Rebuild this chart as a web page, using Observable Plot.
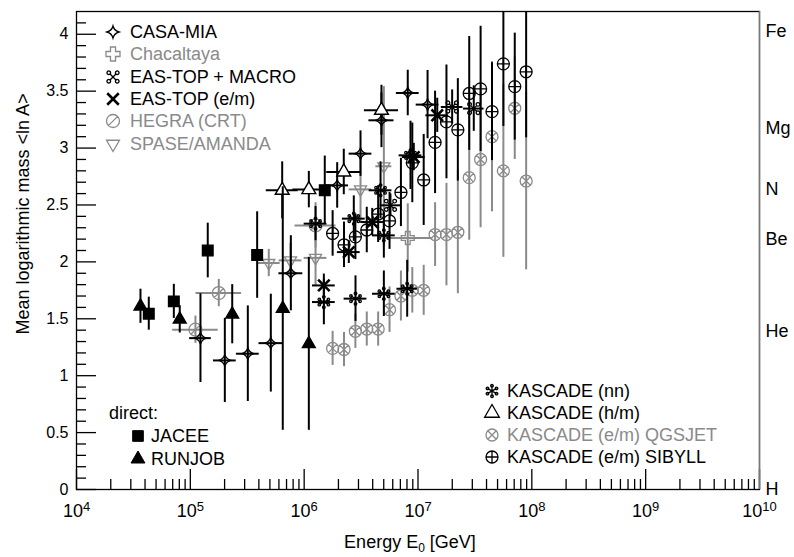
<!DOCTYPE html>
<html><head><meta charset="utf-8">
<script src="https://cdn.jsdelivr.net/npm/d3@7"></script>
<script src="https://cdn.jsdelivr.net/npm/@observablehq/plot@0.6"></script>
<style>
body{margin:0;background:#fff;font-family:"Liberation Sans",Arial,Helvetica,sans-serif;}
#chart{position:relative;width:794px;height:557px;}
.row{position:absolute;height:22px;display:flex;align-items:center;font-size:18px;white-space:nowrap;line-height:22px;}
.row svg{flex:none;}
.ttl{position:absolute;font-size:18px;white-space:nowrap;line-height:1;}
</style></head><body><div id="chart"></div><script>
// ---------- data (log10 E/GeV, <ln A>, errors) ----------
const jaceeLogE = [4.635, 4.855, 5.153, 5.587, 6.181];
const jaceeLnA  = [1.545, 1.653, 2.10, 2.06, 2.63];
const jaceeErr  = [0.145, 0.15, 0.24, 0.38, 0.30];

const runjobLogE = [4.562, 4.907, 5.368, 5.812, 6.041];
const runjobLnA  = [1.61, 1.495, 1.54, 1.59, 1.28];
const runjobErr  = [0.15, 0.12, 0.26, 1.07, 0.76];

const casaLogE  = [5.089, 5.303, 5.505, 5.707, 5.883, 6.290, 6.495, 6.679, 6.910, 7.084];
const casaDLogE = [0.095, 0.10, 0.10, 0.104, 0.105, 0.10, 0.10, 0.11, 0.10, 0.10];
const casaLnA   = [1.33, 1.134, 1.193, 1.286, 1.90, 2.672, 2.951, 3.244, 3.484, 3.382];
const casaErr   = [0.39, 0.37, 0.42, 0.43, 0.33, 0.20, 0.20, 0.24, 0.20, 0.30];

const chacLogE  = [6.91];
const chacDLogE = [0.22];
const chacLnA   = [2.21];
const chacErr   = [0.30];

const eastopMacroLogE  = [6.758, 7.30, 7.49];
const eastopMacroDLogE = [0.09, 0.095, 0.09];
const eastopMacroLnA   = [2.497, 3.361, 3.347];
const eastopMacroErr   = [0.10, 0.15, 0.20];

const eastopEmLogE  = [6.173, 6.392, 6.598, 6.963, 7.169];
const eastopEmDLogE = [0.10, 0.10, 0.10, 0.10, 0.10];
const eastopEmLnA   = [1.793, 2.086, 2.35, 2.921, 3.288];
const eastopEmErr   = [0.10, 0.10, 0.12, 0.12, 0.15];

const hegraLogE  = [5.045, 5.25, 6.10];
const hegraDLogE = [0.20, 0.20, 0.18];
const hegraLnA   = [1.404, 1.726, 2.32];
const hegraErr   = [0.12, 0.12, 0.20];

const spaseLogE  = [5.689, 5.88, 6.10, 6.495, 6.70];
const spaseDLogE = [0.10, 0.10, 0.10, 0.10, 0.07];
const spaseLnA   = [1.99, 2.013, 2.035, 2.637, 2.84];
const spaseErr   = [0.12, 0.15, 0.25, 0.30, 0.70];

const nnLogE  = [6.10, 6.173, 6.436, 6.451, 6.671, 6.70, 6.70, 6.905, 6.934];
const nnDLogE = [0.10, 0.10, 0.10, 0.10, 0.10, 0.10, 0.10, 0.09, 0.10];
const nnLnA   = [2.336, 1.647, 2.38, 1.677, 2.629, 2.233, 1.72, 1.764, 2.936];
const nnErr   = [0.15, 0.20, 0.20, 0.20, 0.25, 0.20, 0.20, 0.25, 0.30];

const hmLogE  = [5.807, 6.041, 6.348, 6.679];
const hmDLogE = [0.14, 0.14, 0.15, 0.15];
const hmLnA   = [2.629, 2.635, 2.79, 3.332];
const hmErr   = [0.25, 0.16, 0.20, 0.22];

const emLogE   = [6.25, 6.35, 6.45, 6.55, 6.65, 6.75, 6.85, 6.95, 7.05, 7.15, 7.25, 7.35, 7.45, 7.55, 7.65, 7.75, 7.85, 7.95];
const qgsLnA   = [1.24, 1.23, 1.39, 1.41, 1.41, 1.58, 1.70, 1.75, 1.75, 2.24, 2.24, 2.26, 2.74, 2.90, 3.10, 2.80, 3.35, 2.71];
const qgsErr   = [0.15, 0.15, 0.15, 0.15, 0.15, 0.20, 0.22, 0.20, 0.22, 0.28, 0.45, 0.54, 0.55, 0.60, 0.66, 0.76, 0.45, 0.78];
const sibLnA   = [2.25, 2.15, 2.22, 2.28, 2.42, 2.36, 2.61, 2.87, 2.72, 3.05, 3.23, 3.16, 3.48, 3.52, 3.32, 3.74, 3.54, 3.67];
const sibErr   = [0.20, 0.20, 0.20, 0.20, 0.25, 0.25, 0.30, 0.35, 0.40, 0.45, 0.50, 0.45, 0.50, 0.55, 0.43, 0.55, 0.47, 0.58];

const xTickLabels = [1e4, 1e5, 1e6, 1e7, 1e8, 1e9, 1e10];
const yTickLabels = [0, 0.5, 1, 1.5, 2, 2.5, 3, 3.5, 4];
const elemNames = ["H", "He", "Be", "N", "Mg", "Fe"];
const elemLnA   = [0, Math.log(4), Math.log(9), Math.log(14), Math.log(24), Math.log(56)];

// ---------- helpers ----------
function build(logE, lnA, err, dlog) {
  return logE.map((l, i) => ({
    E: 10 ** l, lnA: lnA[i], lo: lnA[i] - err[i], hi: lnA[i] + err[i],
    Elo: dlog ? 10 ** (l - dlog[i]) : null, Ehi: dlog ? 10 ** (l + dlog[i]) : null
  }));
}
const rad = s => Math.sqrt(s / Math.PI);
const circ = (c, x, y, r) => { c.moveTo(x + r, y); c.arc(x, y, r, 0, 2 * Math.PI); };
const symCirclePlus = {draw(c, s) { const r = rad(s); circ(c, 0, 0, r); c.moveTo(-r, 0); c.lineTo(r, 0); c.moveTo(0, -r); c.lineTo(0, r); }};
const symCircleTimes = {draw(c, s) { const r = rad(s), q = r * Math.SQRT1_2; circ(c, 0, 0, r); c.moveTo(-q, -q); c.lineTo(q, q); c.moveTo(-q, q); c.lineTo(q, -q); }};
const symCircleSlash = {draw(c, s) { const r = rad(s), q = r * Math.SQRT1_2; circ(c, 0, 0, r); c.moveTo(-q, q); c.lineTo(q, -q); }};
const symDiamond = {draw(c, s) { const r = rad(s), k = r * 0.22;
  c.moveTo(0, -r); c.quadraticCurveTo(k, -k, r, 0); c.quadraticCurveTo(k, k, 0, r);
  c.quadraticCurveTo(-k, k, -r, 0); c.quadraticCurveTo(-k, -k, 0, -r); c.closePath(); }};
const symTriUp = {draw(c, s) { const r = rad(s); c.moveTo(0, -r); c.lineTo(r * 0.866, r * 0.5); c.lineTo(-r * 0.866, r * 0.5); c.closePath(); }};
const symTriDown = {draw(c, s) { const r = rad(s); c.moveTo(0, r); c.lineTo(r * 0.866, -r * 0.5); c.lineTo(-r * 0.866, -r * 0.5); c.closePath(); }};
const symSquare = {draw(c, s) { const h = rad(s) * 0.89; c.rect(-h, -h, 2 * h, 2 * h); }};
const symCrossOutline = {draw(c, s) { const r = rad(s), w = r * 0.36;
  c.moveTo(-w, -r); c.lineTo(w, -r); c.lineTo(w, -w); c.lineTo(r, -w); c.lineTo(r, w); c.lineTo(w, w);
  c.lineTo(w, r); c.lineTo(-w, r); c.lineTo(-w, w); c.lineTo(-r, w); c.lineTo(-r, -w); c.lineTo(-w, -w); c.closePath(); }};
const symTimes = {draw(c, s) { const q = rad(s) * 0.72; c.moveTo(-q, -q); c.lineTo(q, q); c.moveTo(-q, q); c.lineTo(q, -q); }};
const symSnow = {draw(c, s) { const r = rad(s), cr = r * 0.2;
  for (let k = 0; k < 3; k++) { const a = Math.PI / 2 + k * Math.PI / 3, dx = Math.cos(a) * r * 0.8, dy = Math.sin(a) * r * 0.8; c.moveTo(-dx, -dy); c.lineTo(dx, dy); }
  for (let k = 0; k < 6; k++) { const a = Math.PI / 2 + k * Math.PI / 3; circ(c, Math.cos(a) * r * 0.8, Math.sin(a) * r * 0.8, cr); } }};
const symLoopX = {draw(c, s) { const r = rad(s), q = r * 0.42, cr = r * 0.26;
  c.moveTo(-q, -q); c.lineTo(q, q); c.moveTo(-q, q); c.lineTo(q, -q);
  for (const [sx, sy] of [[1, 1], [1, -1], [-1, 1], [-1, -1]]) circ(c, sx * (q + cr * 0.7), sy * (q + cr * 0.7), cr); }};

const GRAY = "#8a8a8a", BLACK = "#000";

function seriesMarks(data, {color, symbol, r, sw = 1.3, fill = "none", bar = 2}) {
  const m = [Plot.ruleX(data, {x: "E", y1: "lo", y2: "hi", stroke: color, strokeWidth: bar, clip: true})];
  if (data[0].Elo != null) m.push(Plot.ruleY(data, {y: "lnA", x1: "Elo", x2: "Ehi", stroke: color, strokeWidth: bar, clip: true}));
  m.push(Plot.dot(data, {x: "E", y: "lnA", symbol, r, stroke: color, strokeWidth: sw, fill, clip: true}));
  return m;
}

const qgs = build(emLogE, qgsLnA, qgsErr, null);
const sib = build(emLogE, sibLnA, sibErr, null);
const hegra = build(hegraLogE, hegraLnA, hegraErr, hegraDLogE);
const spase = build(spaseLogE, spaseLnA, spaseErr, spaseDLogE);
const chac = build(chacLogE, chacLnA, chacErr, chacDLogE);
const casa = build(casaLogE, casaLnA, casaErr, casaDLogE);
const emacro = build(eastopMacroLogE, eastopMacroLnA, eastopMacroErr, eastopMacroDLogE);
const eem = build(eastopEmLogE, eastopEmLnA, eastopEmErr, eastopEmDLogE);
const nn = build(nnLogE, nnLnA, nnErr, nnDLogE);
const hm = build(hmLogE, hmLnA, hmErr, hmDLogE);
const jacee = build(jaceeLogE, jaceeLnA, jaceeErr, null);
const runjob = build(runjobLogE, runjobLnA, runjobErr, null);

const xMinor = d3.range(4, 10).flatMap(k => d3.range(2, 10).map(m => m * 10 ** k));
const yMinor = d3.range(1, 42).map(i => i / 10).filter(v => Math.abs(v * 2 - Math.round(v * 2)) > 1e-6);

const W = 794, H = 557, ML = 76, MR = 35, MT = 11, MB = 68;
const PW = W - ML - MR, PH = H - MT - MB;

const plot = Plot.plot({
  width: W, height: H, marginLeft: ML, marginRight: MR, marginTop: MT, marginBottom: MB,
  style: {fontFamily: "'Liberation Sans', Arial, sans-serif", background: "white", color: "black", overflow: "visible"},
  x: {type: "log", domain: [1e4, 1e10]},
  y: {domain: [0, 4.2]},
  marks: [
    Plot.tickX(xMinor, {x: d => d, insetTop: PH - 10, stroke: "black", strokeWidth: 1.3}),
    Plot.tickX(xTickLabels, {x: d => d, insetTop: PH - 20, stroke: "black", strokeWidth: 1.3}),
    Plot.tickY(yMinor, {y: d => d, insetRight: PW - 10, stroke: "black", strokeWidth: 1.3}),
    Plot.tickY(yTickLabels, {y: d => d, insetRight: PW - 20, stroke: "black", strokeWidth: 1.3}),
    Plot.axisX(xTickLabels, {tickSize: 0, tickPadding: 15, fontSize: 18, label: null, tickFormat: d => "10^" + Math.round(Math.log10(d))}),
    Plot.axisY(yTickLabels, {tickSize: 0, tickPadding: 8, fontSize: 16, label: null, tickFormat: d => String(d)}),
    Plot.axisY(elemLnA, {anchor: "right", tickSize: 0, tickPadding: 6, fontSize: 18, label: null, tickFormat: d => elemNames[elemLnA.indexOf(d)]}),
    ...seriesMarks(qgs, {color: GRAY, symbol: symCircleTimes, r: 6}),
    ...seriesMarks(hegra, {color: GRAY, symbol: symCircleSlash, r: 6.5}),
    ...seriesMarks(spase, {color: GRAY, symbol: symTriDown, r: 7}),
    ...seriesMarks(chac, {color: GRAY, symbol: symCrossOutline, r: 6.5}),
    ...seriesMarks(sib, {color: BLACK, symbol: symCirclePlus, r: 6}),
    ...seriesMarks(casa, {color: BLACK, symbol: symDiamond, r: 6}),
    ...seriesMarks(nn, {color: BLACK, symbol: symSnow, r: 6.5, sw: 1.3}),
    ...seriesMarks(emacro, {color: BLACK, symbol: symLoopX, r: 7, sw: 1.3}),
    ...seriesMarks(eem, {color: BLACK, symbol: symTimes, r: 8, sw: 2.6}),
    ...seriesMarks(hm, {color: BLACK, symbol: symTriUp, r: 8, fill: "white", sw: 1.4}),
    ...seriesMarks(jacee, {color: BLACK, symbol: symSquare, r: 6, fill: BLACK}),
    ...seriesMarks(runjob, {color: BLACK, symbol: symTriUp, r: 7.5, fill: BLACK}),
    Plot.frame({stroke: "black", strokeWidth: 1.3}),
    Plot.ruleX([1e10], {stroke: "#777", strokeWidth: 1.3})
  ]
});

// superscript exponents on x tick labels
plot.querySelectorAll('g[aria-label="x-axis tick label"] text').forEach(t => {
  const [base, exp] = t.textContent.split("^");
  t.textContent = "";
  const ns = "http://www.w3.org/2000/svg";
  const a = document.createElementNS(ns, "tspan"); a.textContent = base; t.appendChild(a);
  const b = document.createElementNS(ns, "tspan"); b.textContent = exp; b.setAttribute("dy", "-0.45em"); b.setAttribute("font-size", "13"); t.appendChild(b);
});

const chart = document.getElementById("chart");
chart.appendChild(plot);

// ---------- legends & titles (HTML overlay) ----------
function icon(sym, r, color, fill, sw) {
  const p = d3.path(); sym.draw(p, Math.PI * r * r);
  return `<svg width="20" height="20" viewBox="-10 -10 20 20"><path d="${p}" stroke="${color}" fill="${fill}" stroke-width="${sw}"/></svg>`;
}
function row(left, cy, gap, iconHtml, label, color) {
  const d = document.createElement("div");
  d.className = "row";
  d.style.left = left + "px"; d.style.top = (cy - 11) + "px"; d.style.color = color;
  d.innerHTML = iconHtml + `<span style="margin-left:${gap}px">${label}</span>`;
  chart.appendChild(d);
}
const legTop = [
  ["CASA-MIA", symDiamond, 6, BLACK, "none", 1.3],
  ["Chacaltaya", symCrossOutline, 7, GRAY, "none", 1.3],
  ["EAS-TOP + MACRO", symLoopX, 7, BLACK, "none", 1.3],
  ["EAS-TOP (e/m)", symTimes, 8, BLACK, "none", 2.6],
  ["HEGRA (CRT)", symCircleSlash, 6.5, GRAY, "none", 1.3],
  ["SPASE/AMANDA", symTriDown, 7.5, GRAY, "none", 1.3]
];
legTop.forEach(([lab, s, r, c, f, sw], i) => row(103, 31.7 + i * 22.4, 7, icon(s, r, c, f, sw), lab, c));
const legBot = [
  ["KASCADE (nn)", symSnow, 6.5, BLACK, "none", 1.3],
  ["KASCADE (h/m)", symTriUp, 8.5, BLACK, "none", 1.3],
  ["KASCADE (e/m) QGSJET", symCircleTimes, 6, GRAY, "none", 1.3],
  ["KASCADE (e/m) SIBYLL", symCirclePlus, 6, BLACK, "none", 1.3]
];
legBot.forEach(([lab, s, r, c, f, sw], i) => row(482, 391 + i * 22, 5, icon(s, r, c, f, sw), lab, c));

const dir = document.createElement("div");
dir.className = "ttl"; dir.style.left = "109px"; dir.style.top = "404px"; dir.textContent = "direct:";
chart.appendChild(dir);
row(128, 436, 3, icon(symSquare, 6, BLACK, BLACK, 1), "JACEE", BLACK);
row(128, 459, 3, icon(symTriUp, 8, BLACK, BLACK, 1), "RUNJOB", BLACK);

const xt = document.createElement("div");
xt.className = "ttl"; xt.style.left = "410px"; xt.style.top = "533px"; xt.style.transform = "translateX(-50%)";
xt.innerHTML = 'Energy E<span style="font-size:12px;vertical-align:-4px">0</span> [GeV]';
chart.appendChild(xt);

const yt = document.createElement("div");
yt.className = "ttl"; yt.style.left = "23px"; yt.style.top = "214px"; yt.style.transform = "translate(-50%,-50%) rotate(-90deg)";
yt.textContent = "Mean logarithmic mass <ln A>";
chart.appendChild(yt);
</script></body></html>
